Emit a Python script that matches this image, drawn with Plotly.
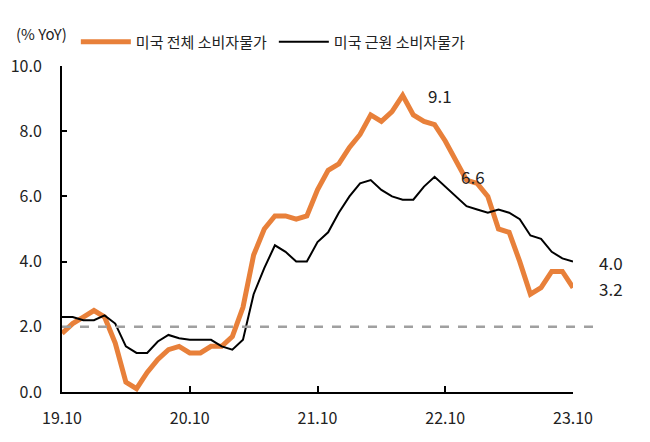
import plotly.graph_objects as go

# Months 2019.10 .. 2023.10
months = []
for y in range(19, 24):
    for m in range(1, 13):
        if (y == 19 and m < 10) or (y == 23 and m > 10):
            continue
        months.append(f"{y}.{m:02d}")

headline = [1.8, 2.1, 2.3,
            2.5, 2.3, 1.5, 0.3, 0.1, 0.6, 1.0, 1.3, 1.4, 1.2, 1.2, 1.4,
            1.4, 1.7, 2.6, 4.2, 5.0, 5.4, 5.4, 5.3, 5.4, 6.2, 6.8, 7.0,
            7.5, 7.9, 8.5, 8.3, 8.6, 9.1, 8.5, 8.3, 8.2, 7.7, 7.1, 6.5,
            6.4, 6.0, 5.0, 4.9, 4.0, 3.0, 3.2, 3.7, 3.7, 3.2]
core = [2.3, 2.3, 2.2,
        2.2, 2.35, 2.1, 1.4, 1.2, 1.2, 1.55, 1.75, 1.65, 1.6, 1.6, 1.6,
        1.4, 1.3, 1.6, 3.0, 3.8, 4.5, 4.3, 4.0, 4.0, 4.6, 4.9, 5.5,
        6.0, 6.4, 6.5, 6.2, 6.0, 5.9, 5.9, 6.3, 6.6, 6.3, 6.0, 5.7,
        5.6, 5.5, 5.6, 5.5, 5.3, 4.8, 4.7, 4.3, 4.1, 4.0]

series_names = ["미국 전체 소비자물가", "미국 근원 소비자물가"]
x_ticks = ["19.10", "20.10", "21.10", "22.10", "23.10"]
y_ticks = [0, 2, 4, 6, 8, 10]
target_level = 2.0

FONT = "Noto Sans CJK KR"
ORANGE = "#E8803A"

idx = list(range(len(months)))

fig = go.Figure()
fig.add_trace(go.Scatter(x=idx, y=headline, mode="lines", name=series_names[0],
                         line=dict(color=ORANGE, width=5)))
fig.add_trace(go.Scatter(x=idx, y=core, mode="lines", name=series_names[1],
                         line=dict(color="black", width=2)))

# 2% reference line
fig.add_shape(type="line", xref="paper", yref="y", x0=0, x1=1.04,
              y0=target_level, y1=target_level,
              line=dict(color="#A0A0A0", width=2.5, dash="dash"))

# value labels
i_peak = headline.index(max(headline))
j_peak = core.index(max(core))
last = len(months) - 1
labels = [
    (i_peak, headline[i_peak], 37, 0),
    (j_peak, core[j_peak], 38, 0),
    (last, core[last], 38, -1),
    (last, headline[last], 38, -1),
]
for x, y, xs, ys in labels:
    fig.add_annotation(x=x, y=y, text=f"{y:.1f}", showarrow=False,
                       xshift=xs, yshift=ys,
                       font=dict(family=FONT, size=17, color="#222"))

fig.add_annotation(xref="paper", yref="paper", x=-0.094, y=1.101,
                   xanchor="left", yanchor="middle", text="(% YoY)", showarrow=False,
                   font=dict(family=FONT, size=15, color="#222"))

tick_pos = [months.index(t) for t in x_ticks]

fig.update_layout(
    width=634, height=426,
    margin=dict(l=54, r=69, t=58, b=42, autoexpand=False),
    paper_bgcolor="white", plot_bgcolor="white",
    font=dict(family=FONT, size=16, color="#222"),
    showlegend=True,
    legend=dict(orientation="h", xref="container", yref="container",
                x=0.107, y=0.920, xanchor="left", yanchor="middle",
                font=dict(family=FONT, size=15, color="#222"),
                entrywidth=133, entrywidthmode="pixels", itemwidth=50,
                bgcolor="rgba(0,0,0,0)"),
    xaxis=dict(range=[0, last], automargin=False,
               tickmode="array", tickvals=tick_pos, ticktext=x_ticks,
               showline=True, linecolor="black", linewidth=2,
               ticks="inside", ticklen=6, tickwidth=2, tickcolor="black",
               showgrid=False, zeroline=False, ticklabelstandoff=11),
    yaxis=dict(range=[0, 10], tickvals=y_ticks, automargin=False,
               ticktext=[f"{v:.1f}" for v in y_ticks],
               showline=True, linecolor="black", linewidth=2,
               ticks="inside", ticklen=5, tickwidth=2, tickcolor="black",
               showgrid=False, zeroline=False, ticklabelstandoff=15),
)

fig.write_html("out.html")
